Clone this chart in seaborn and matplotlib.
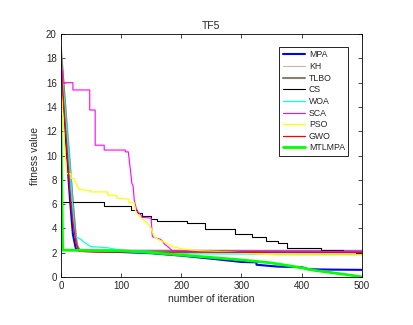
import numpy as np
import pandas as pd
import matplotlib
matplotlib.use('Agg')
import matplotlib.pyplot as plt
import seaborn as sns

# best fitness vs iteration (duplicated x = step)
mpa_it = [0, 5, 10, 15, 20, 25, 30, 60, 100, 150, 200, 250, 300, 325, 325, 360, 400, 411, 450, 500]
mpa_val = [17.2, 14.0, 10.0, 6.5, 3.5, 2.3, 2.15, 2.1, 2.05, 1.95, 1.75, 1.5, 1.23, 1.2, 1.0, 0.85, 0.8, 0.63, 0.6, 0.58]

kh_it = [0, 5, 10, 15, 20, 25, 28, 32, 500]
kh_val = [18.8, 16.0, 13.0, 10.0, 6.5, 3.5, 2.5, 2.2, 2.2]

tlbo_it = [0, 5, 10, 15, 20, 25, 27, 30, 35, 500]
tlbo_val = [18.9, 15.5, 12.0, 9.0, 6.0, 3.2, 2.6, 2.3, 2.15, 2.12]

cs_it = [0, 72, 72, 117, 117, 127, 127, 135, 135, 150, 150, 160, 160, 210, 210, 240, 240,
         290, 290, 318, 318, 340, 340, 360, 360, 375, 375, 432, 432, 468, 468, 490, 490, 500]
cs_val = [6.2, 6.2, 5.85, 5.85, 5.5, 5.5, 5.3, 5.3, 5.0, 5.0, 4.75, 4.75, 4.6, 4.6, 4.45, 4.45, 3.95,
          3.95, 3.55, 3.55, 3.3, 3.3, 2.95, 2.95, 2.8, 2.8, 2.4, 2.4, 2.2, 2.2, 2.1, 2.1, 2.0, 2.0]

woa_it = [0, 5, 10, 15, 20, 23, 25, 33, 40, 50, 78, 98, 150, 215, 500]
woa_val = [17.6, 15.0, 12.0, 9.0, 5.5, 3.5, 3.3, 3.1, 2.8, 2.5, 2.4, 2.2, 2.1, 1.9, 1.85]

sca_it = [0, 3, 3, 20, 20, 48, 48, 57, 57, 72, 72, 107, 107, 112, 113, 116, 118, 120, 122, 126,
          128, 133, 135, 150, 152, 165, 168, 172, 175, 180, 185, 200, 500]
sca_val = [17.0, 17.0, 16.0, 16.0, 15.4, 15.4, 13.75, 13.75, 10.85, 10.85, 10.45, 10.45, 10.3, 10.3,
           9.9, 8.6, 7.7, 7.5, 6.3, 5.5, 5.35, 5.1, 4.9, 4.85, 3.3, 3.1, 3.0, 2.7, 2.6, 2.4, 2.15, 2.1, 2.1]

pso_it = [0, 3, 6, 10, 17, 17, 22, 27, 30, 50, 50, 78, 78, 92, 93, 113, 113, 122, 124, 133, 142,
          150, 155, 163, 175, 185, 202, 230, 285, 358, 500]
pso_val = [16.5, 14.0, 11.0, 8.5, 8.5, 8.1, 8.1, 7.5, 7.2, 7.1, 7.0, 7.0, 6.75, 6.7, 6.5, 6.4, 6.1,
           6.1, 5.4, 4.85, 4.5, 4.0, 3.3, 3.05, 2.8, 2.5, 2.3, 2.15, 2.05, 1.8, 1.8]

gwo_it = [0, 5, 10, 15, 20, 25, 30, 60, 500]
gwo_val = [17.6, 14.0, 10.5, 7.0, 4.5, 2.8, 2.1, 2.05, 2.0]

mtlmpa_it = [0, 3, 100, 150, 200, 250, 300, 350, 400, 420, 450, 480, 500]
mtlmpa_val = [13.3, 2.2, 2.15, 2.0, 1.8, 1.6, 1.4, 1.15, 0.75, 0.55, 0.35, 0.15, 0.0]

names = ['MPA', 'KH', 'TLBO', 'CS', 'WOA', 'SCA', 'PSO', 'GWO', 'MTLMPA']
iters = [mpa_it, kh_it, tlbo_it, cs_it, woa_it, sca_it, pso_it, gwo_it, mtlmpa_it]
vals = [mpa_val, kh_val, tlbo_val, cs_val, woa_val, sca_val, pso_val, gwo_val, mtlmpa_val]
colors = ['#0000ff', '#c2b8a8', '#858070', '#000000', '#00ffff', '#ff00ff', '#ffff00', '#ff0000', '#00ff00']
widths = [1.5, 0.8, 1.5, 0.8, 0.9, 0.8, 0.9, 0.9, 2.0]

sns.set_theme(style='ticks')
plt.rcParams['font.family'] = ['Liberation Sans', 'DejaVu Sans']

fig, ax = plt.subplots(figsize=(4.14, 3.25), dpi=100)
fig.subplots_adjust(left=0.147, right=0.874, bottom=0.148, top=0.895)

for name, it, v, c, w in zip(names, iters, vals, colors, widths):
    df = pd.DataFrame({'iteration': it, 'fitness': v})
    sns.lineplot(data=df, x='iteration', y='fitness', ax=ax, estimator=None, sort=False,
                 color=c, linewidth=w, label=name)

ax.set_xlim(0, 500)
ax.set_ylim(0, 20)
ax.set_xticks(range(0, 501, 100))
ax.set_yticks(range(0, 21, 2))
ax.tick_params(direction='in', top=True, right=True, labelsize=7, length=3, width=0.6, pad=3)
for s in ax.spines.values():
    s.set_linewidth(0.6)
    s.set_color('black')
ax.set_title('TF5', fontsize=7.5, pad=4)
ax.set_xlabel('number of iteration', fontsize=7.5, labelpad=2)
ax.set_ylabel('fitness value', fontsize=7.5, labelpad=4)

leg = ax.legend(loc='upper right', bbox_to_anchor=(0.97, 0.965), fontsize=6.3, handlelength=2.6,
                labelspacing=0.3, borderpad=0.4, handletextpad=0.4, fancybox=False, framealpha=1)
leg.get_frame().set_edgecolor('black')
leg.get_frame().set_linewidth(0.6)

fig.savefig('out.png', dpi=100)
